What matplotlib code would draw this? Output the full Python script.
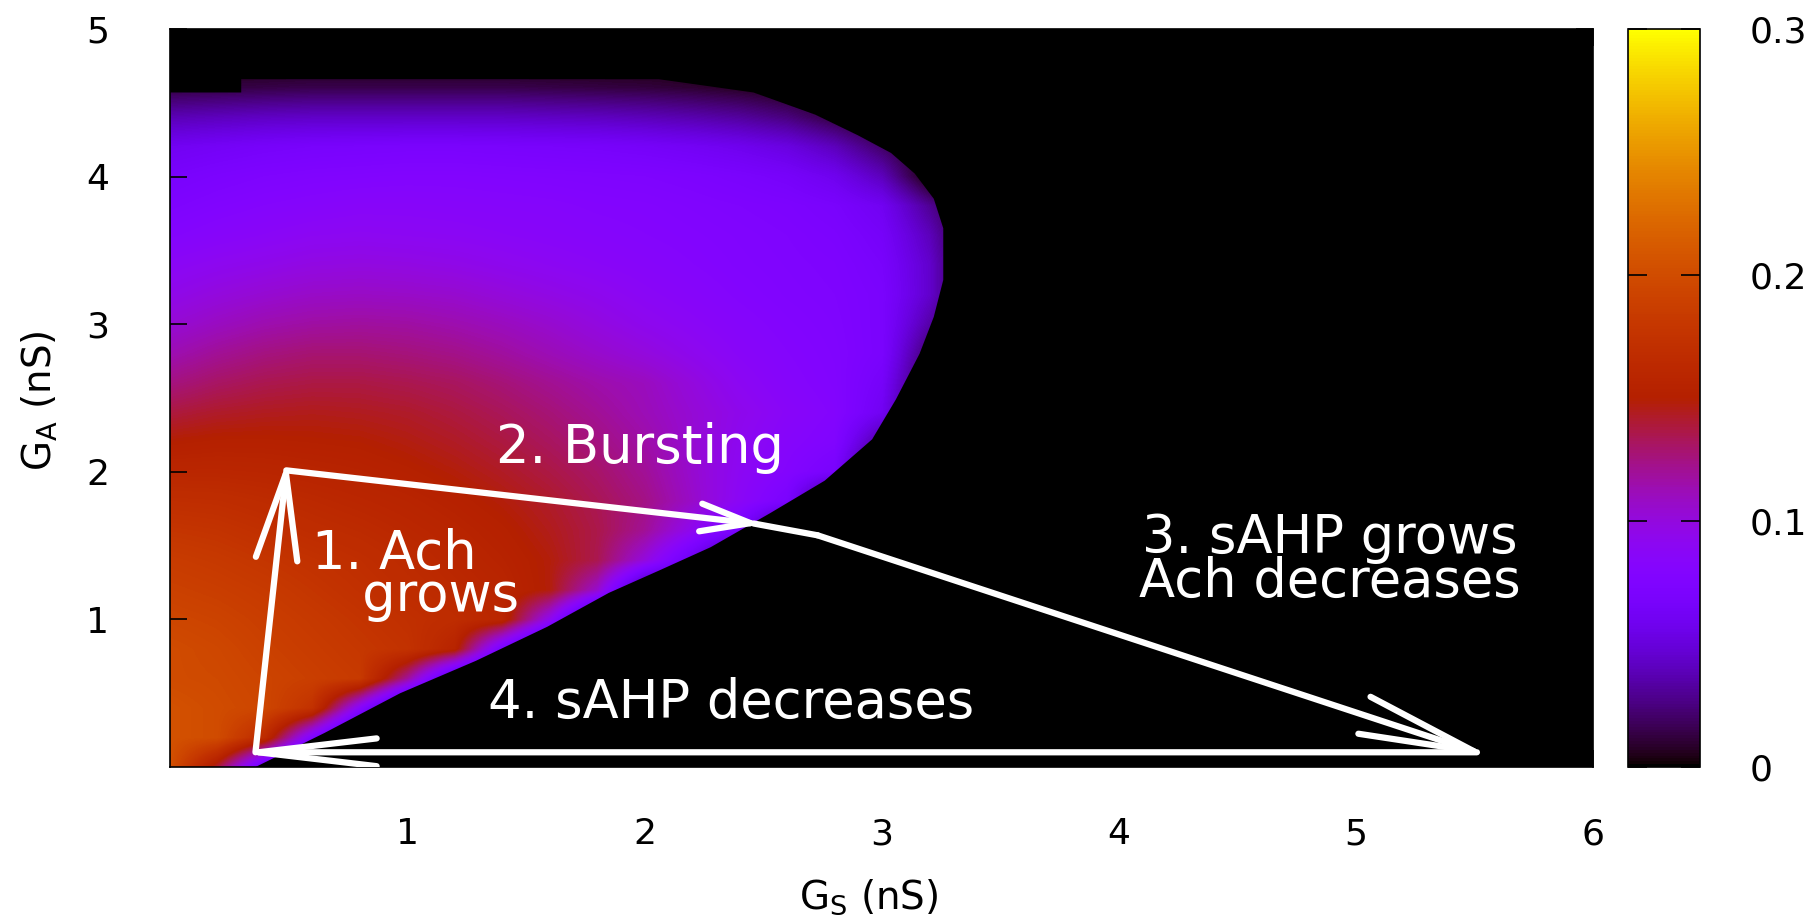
import numpy as np
import matplotlib
matplotlib.use('Agg')
from matplotlib import pyplot as plt
from matplotlib.patches import Polygon, FancyArrowPatch, ArrowStyle

# sample points of the map (nS)
gs_grid = [0.0, 0.2, 0.4, 0.6, 0.8, 1.0, 1.2, 1.4, 1.6, 1.8, 2.0, 2.2, 2.4, 2.6, 2.8, 3.0, 3.2, 3.4]
ga_grid = [0.0, 0.2, 0.4, 0.6, 0.8, 1.0, 1.2, 1.4, 1.6, 1.8, 2.0, 2.2, 2.4, 2.6, 2.8, 3.0,
           3.2, 3.4, 3.6, 3.8, 4.0, 4.2, 4.4, 4.6, 4.8]

# values, one row per G_A value (bottom to top)
z_rows = [
    [0.205, 0.14, 0.05, 0, 0, 0, 0, 0, 0, 0, 0, 0, 0, 0, 0, 0, 0, 0],
    [0.205, 0.2, 0.165, 0.075, 0, 0, 0, 0, 0, 0, 0, 0, 0, 0, 0, 0, 0, 0],
    [0.205, 0.2, 0.195, 0.174, 0.084, 0, 0, 0, 0, 0, 0, 0, 0, 0, 0, 0, 0, 0],
    [0.2, 0.198, 0.193, 0.188, 0.183, 0.12, 0.03, 0, 0, 0, 0, 0, 0, 0, 0, 0, 0, 0],
    [0.2, 0.196, 0.19, 0.185, 0.18, 0.175, 0.156, 0.066, 0, 0, 0, 0, 0, 0, 0, 0, 0, 0],
    [0.195, 0.192, 0.187, 0.182, 0.177, 0.172, 0.167, 0.16, 0.093, 0, 0, 0, 0, 0, 0, 0, 0, 0],
    [0.19, 0.187, 0.183, 0.178, 0.173, 0.168, 0.163, 0.158, 0.148, 0.106, 0.016, 0, 0, 0, 0, 0, 0, 0],
    [0.185, 0.182, 0.178, 0.174, 0.17, 0.165, 0.16, 0.155, 0.148, 0.135, 0.1, 0.055, 0, 0, 0, 0, 0, 0],
    [0.178, 0.176, 0.172, 0.168, 0.165, 0.161, 0.157, 0.152, 0.145, 0.136, 0.12, 0.092, 0.068, 0, 0, 0, 0, 0],
    [0.17, 0.169, 0.166, 0.163, 0.16, 0.157, 0.153, 0.148, 0.142, 0.134, 0.124, 0.107, 0.088, 0.07, 0, 0, 0, 0],
    [0.16, 0.16, 0.159, 0.157, 0.155, 0.152, 0.148, 0.143, 0.137, 0.13, 0.12, 0.105, 0.09, 0.08, 0.068, 0, 0, 0],
    [0.15, 0.152, 0.152, 0.151, 0.15, 0.147, 0.143, 0.138, 0.132, 0.125, 0.116, 0.104, 0.092, 0.083, 0.077, 0.03, 0, 0],
    [0.138, 0.142, 0.144, 0.145, 0.144, 0.142, 0.138, 0.133, 0.127, 0.12, 0.112, 0.103, 0.094, 0.086, 0.08, 0.06, 0, 0],
    [0.125, 0.131, 0.135, 0.137, 0.137, 0.135, 0.132, 0.127, 0.121, 0.115, 0.11, 0.1, 0.09, 0.083, 0.078, 0.065, 0.01, 0],
    [0.113, 0.12, 0.125, 0.128, 0.128, 0.126, 0.123, 0.118, 0.112, 0.106, 0.1, 0.093, 0.086, 0.081, 0.077, 0.07, 0.02, 0],
    [0.103, 0.109, 0.114, 0.117, 0.118, 0.117, 0.114, 0.11, 0.105, 0.099, 0.093, 0.088, 0.083, 0.079, 0.076, 0.07, 0.035, 0],
    [0.095, 0.1, 0.104, 0.107, 0.108, 0.107, 0.105, 0.101, 0.097, 0.093, 0.088, 0.084, 0.08, 0.077, 0.075, 0.07, 0.045, 0],
    [0.088, 0.092, 0.095, 0.098, 0.099, 0.098, 0.096, 0.093, 0.09, 0.087, 0.084, 0.081, 0.078, 0.076, 0.074, 0.068, 0.045, 0],
    [0.08, 0.084, 0.087, 0.09, 0.091, 0.09, 0.089, 0.087, 0.085, 0.083, 0.081, 0.079, 0.077, 0.075, 0.072, 0.065, 0.04, 0],
    [0.074, 0.078, 0.081, 0.083, 0.085, 0.085, 0.084, 0.083, 0.082, 0.08, 0.079, 0.077, 0.075, 0.073, 0.069, 0.06, 0.03, 0],
    [0.068, 0.072, 0.075, 0.077, 0.078, 0.079, 0.079, 0.078, 0.077, 0.076, 0.075, 0.073, 0.07, 0.066, 0.058, 0.04, 0, 0],
    [0.06, 0.063, 0.066, 0.068, 0.069, 0.07, 0.07, 0.069, 0.068, 0.067, 0.065, 0.062, 0.058, 0.052, 0.04, 0.02, 0, 0],
    [0.038, 0.04, 0.042, 0.043, 0.043, 0.043, 0.043, 0.043, 0.042, 0.041, 0.039, 0.036, 0.032, 0.025, 0.012, 0, 0, 0],
    [0.012, 0.013, 0.014, 0.015, 0.015, 0.015, 0.015, 0.015, 0.014, 0.013, 0.012, 0.01, 0.007, 0.003, 0, 0, 0, 0],
    [0, 0, 0, 0, 0, 0, 0, 0, 0, 0, 0, 0, 0, 0, 0, 0, 0, 0],
]

# outline of the non-zero region
edge_gs = [0, 0.36, 0.65, 0.97, 1.29, 1.59, 1.85, 2.06, 2.28, 2.53, 2.76, 2.96, 3.06, 3.16, 3.22,
           3.26, 3.26, 3.22, 3.14, 3.04, 2.9, 2.72, 2.46, 2.06, 0.30, 0.30, 0]
edge_ga = [0, 0, 0.23, 0.5, 0.72, 0.95, 1.18, 1.33, 1.49, 1.72, 1.94, 2.22, 2.49, 2.8, 3.05,
           3.3, 3.65, 3.85, 4.02, 4.16, 4.28, 4.42, 4.57, 4.66, 4.66, 4.57, 4.57]

# the cycle drawn with arrows: (start, end, head length, head half-width in pt)
arrows = [
    ((0.36, 0.10), (0.49, 2.01), 62, 15),
    ((0.49, 2.01), (2.46, 1.65), 36, 10),
    ((2.73, 1.57), (5.51, 0.10), 83, 14),
    ((5.51, 0.10), (0.36, 0.10), 85, 10),
]
joint_gs = [2.46, 2.73]
joint_ga = [1.65, 1.57]

# (text, x, last baseline y, alignment, line spacing)
labels = [
    ('2. Bursting', 1.98, 2.06, 'center', 1.0),
    ('1. Ach\n   grows', 0.60, 1.06, 'left', 0.74),
    ('3. sAHP grows\nAch decreases', 4.89, 1.15, 'center', 0.82),
    ('4. sAHP decreases', 2.365, 0.33, 'center', 1.0),
]

xticks = [1, 2, 3, 4, 5, 6]
yticks = [1, 2, 3, 4, 5]
cbar_ticks = [0, 0.1, 0.2, 0.3]
cbar_labels = ['0', '0.1', '0.2', '0.3']

fig = plt.figure(figsize=(18.17, 9.15), dpi=100)
ax = fig.add_axes([0.0936, 0.1617, 0.7832, 0.8066])
ax.set_facecolor('black')

z = np.array(z_rows)
dx = (gs_grid[1] - gs_grid[0]) / 2
dy = (ga_grid[1] - ga_grid[0]) / 2
im = ax.imshow(z, origin='lower', cmap='gnuplot', vmin=0, vmax=0.3, aspect='auto',
               interpolation='bilinear', interpolation_stage='data',
               extent=[gs_grid[0] - dx, gs_grid[-1] + dx, ga_grid[0] - dy, ga_grid[-1] + dy])
region = Polygon(np.column_stack([edge_gs, edge_ga]), closed=True, transform=ax.transData)
im.set_clip_path(region)

ax.set_xlim(0, 6)
ax.set_ylim(0, 5)

lw = 4.5
for start, end, hl, hw in arrows:
    style = ArrowStyle('->', head_length=hl, head_width=hw)
    # matplotlib pulls a thin head back from the end point; push it out again
    sin_t = hw / np.hypot(hl, hw)
    back = (0.5 * lw / sin_t - 0.5 * lw) * fig.dpi / 72
    p0, p1 = ax.transData.transform([start, end])
    u = (p1 - p0) / np.hypot(*(p1 - p0))
    tip = ax.transData.inverted().transform(p1 + u * back)
    ax.add_patch(FancyArrowPatch(start, tuple(tip), arrowstyle=style, mutation_scale=1,
                                 color='white', lw=lw, shrinkA=0, shrinkB=0, zorder=5))
ax.plot(joint_gs, joint_ga, color='white', lw=lw, solid_capstyle='round', zorder=5)

for txt, x, y, ha, ls in labels:
    ax.text(x, y, txt, color='white', fontsize=38, ha=ha, va='baseline', multialignment=ha,
            linespacing=ls, zorder=6)

ax.set_xticks(xticks)
ax.set_yticks(yticks)
ax.tick_params(direction='in', length=12, width=1.2, top=True, right=True, labelsize=26)
ax.tick_params(axis='x', pad=36)
ax.tick_params(axis='y', pad=44)
for sp in ax.spines.values():
    sp.set_linewidth(1.2)

ax.set_xlabel(r'G$_{\rm S}$ (nS)', fontsize=28)
ax.xaxis.set_label_coords(0.491, -0.149)
ax.set_ylabel(r'G$_{\rm A}$ (nS)', fontsize=28)
ax.yaxis.set_label_coords(-0.077, 0.497)

cax = fig.add_axes([0.896, 0.1617, 0.0396, 0.8066])
cb = fig.colorbar(im, cax=cax, ticks=cbar_ticks)
cb.set_ticklabels(cbar_labels)
cb.outline.set_linewidth(1.2)
cax.yaxis.set_ticks_position('both')
cax.tick_params(direction='in', length=14, width=1.2, labelsize=26, pad=36,
                labelleft=False, labelright=True)

fig.savefig('out.png', dpi=100)
